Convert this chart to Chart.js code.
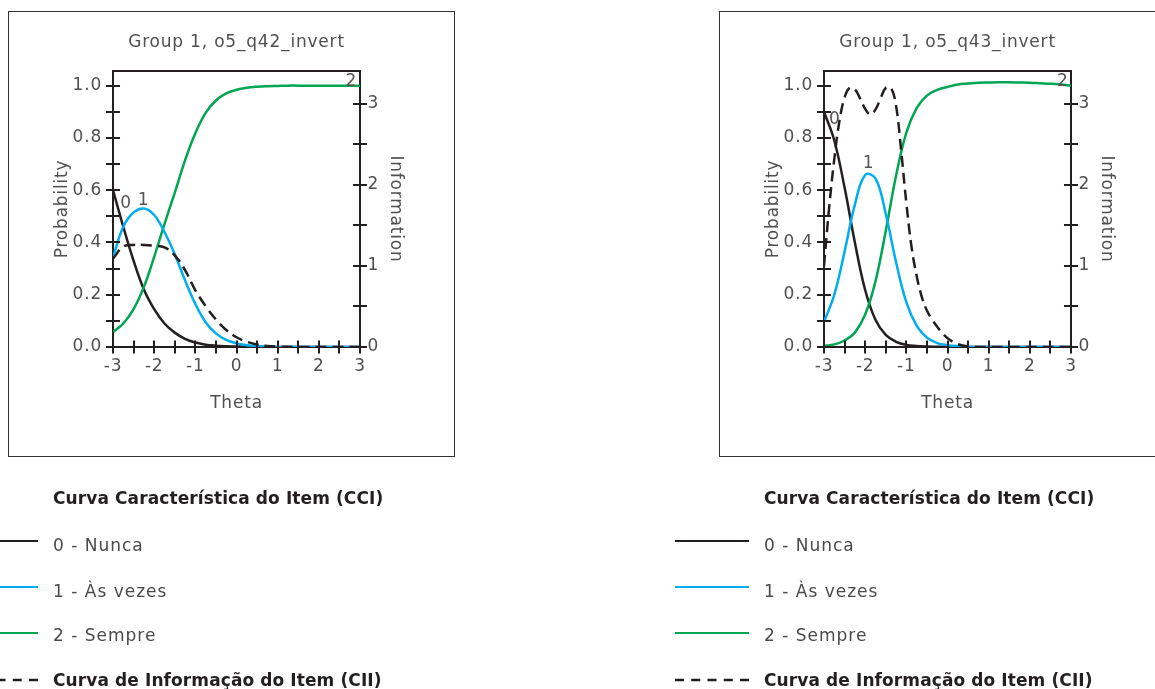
<!DOCTYPE html>
<html>
<head>
<meta charset="utf-8">
<script src="https://cdn.jsdelivr.net/npm/chart.js@4.4.1/dist/chart.umd.min.js"></script>
<style>
  body { margin: 0; width: 1155px; height: 689px; overflow: hidden; background: #fff;
         position: relative; font-family: "DejaVu Sans", sans-serif; }
  .panel { position: absolute; top: 11px; width: 447px; height: 446px; }
  .frame { position: absolute; left: 0; top: 0; width: 447px; height: 446px;
           border: 1.5px solid #333; box-sizing: border-box; }
  .panel canvas { position: absolute; left: 0; top: 0; }
  .legend { position: absolute; top: 0; width: 447px; height: 689px; }
  .lg-text { position: absolute; left: 45px; height: 20px; line-height: 20px; white-space: nowrap;
             font-size: 17px; color: #4a4a4a; letter-spacing: 1px; }
  .lg-head { font-weight: bold; color: #231f20; letter-spacing: 0.1px; }
  .lg-line { position: absolute; left: -44px; width: 74px; height: 0; border-top: 2.5px solid; }
  .lg-dash { position: absolute; left: -44px; }
</style>
</head>
<body>

<div class="panel" style="left:8px">
  <div class="frame"></div>
  <canvas id="chartQ42" width="447" height="446"></canvas>
</div>
<div class="panel" style="left:719px">
  <div class="frame"></div>
  <canvas id="chartQ43" width="447" height="446"></canvas>
</div>

<div class="legend" style="left:8px" id="legendQ42"></div>
<div class="legend" style="left:719px" id="legendQ43"></div>

<script>
// theta grid for the category curves (step 0.25)
const theta = [-3, -2.75, -2.5, -2.25, -2, -1.75, -1.5, -1.25, -1, -0.75, -0.5, -0.25,
               0, 0.25, 0.5, 0.75, 1, 1.25, 1.5, 1.75, 2, 2.25, 2.5, 2.75, 3];
// finer grid for the q43 information curve (step 0.125)
const thetaFine = [-3, -2.875, -2.75, -2.625, -2.5, -2.375, -2.25, -2.125, -2, -1.875, -1.75,
                   -1.625, -1.5, -1.375, -1.25, -1.125, -1, -0.875, -0.75, -0.625, -0.5, -0.375,
                   -0.25, -0.125, 0, 0.125, 0.25, 0.375, 0.5, 0.625, 0.75, 0.875, 1, 1.125, 1.25,
                   1.375, 1.5, 1.625, 1.75, 1.875, 2, 2.125, 2.25, 2.375, 2.5, 2.625, 2.75, 2.875, 3];

// o5_q42_invert
const q42Nunca   = [0.60, 0.46, 0.33, 0.22, 0.145, 0.09, 0.055, 0.031, 0.017, 0.009, 0.005, 0.003,
                    0.002, 0.001, 0.001, 0, 0, 0, 0, 0, 0, 0, 0, 0, 0];
const q42AsVezes = [0.343, 0.46, 0.515, 0.53, 0.505, 0.44, 0.355, 0.255, 0.165, 0.095, 0.052, 0.027,
                    0.014, 0.007, 0.003, 0.001, 0, 0, 0, 0, 0, 0, 0, 0, 0];
const q42Sempre  = [0.057, 0.09, 0.145, 0.23, 0.345, 0.47, 0.59, 0.714, 0.818, 0.896, 0.943, 0.97,
                    0.984, 0.992, 0.996, 0.998, 0.999, 1, 1, 1, 1, 1, 1, 1, 1];
const q42Info    = [1.09, 1.24, 1.26, 1.26, 1.25, 1.23, 1.13, 0.95, 0.70, 0.505, 0.34, 0.21,
                    0.12, 0.065, 0.03, 0.012, 0.005, 0.002, 0, 0, 0, 0, 0, 0, 0];

// o5_q43_invert
const q43Nunca   = [0.90, 0.79, 0.61, 0.40, 0.218, 0.104, 0.046, 0.02, 0.008, 0.004, 0.002, 0.001,
                    0, 0, 0, 0, 0, 0, 0, 0, 0, 0, 0, 0, 0];
const q43AsVezes = [0.096, 0.20, 0.365, 0.545, 0.658, 0.645, 0.51, 0.325, 0.172, 0.082, 0.036, 0.015,
                    0.007, 0.003, 0.001, 0, 0, 0, 0, 0, 0, 0, 0, 0, 0];
const q43Sempre  = [0.004, 0.01, 0.025, 0.055, 0.124, 0.251, 0.444, 0.655, 0.82, 0.914, 0.962, 0.984,
                    0.995, 1.004, 1.008, 1.011, 1.012, 1.013, 1.013, 1.012, 1.011, 1.009, 1.007, 1.004, 1.0];
const q43Info    = [1.00, 1.72, 2.32, 2.79, 3.08, 3.20, 3.18, 3.07, 2.94, 2.87, 2.93, 3.07, 3.20,
                    3.20, 2.98, 2.42, 1.78, 1.24, 0.88, 0.62, 0.45, 0.34, 0.25, 0.17, 0.11, 0.065,
                    0.035, 0.018, 0.008, 0.003, 0, 0, 0, 0, 0, 0, 0, 0, 0, 0, 0, 0, 0, 0, 0, 0, 0, 0, 0];

// legend texts
const categoryNames = ['0 - Nunca', '1 - Às vezes', '2 - Sempre'];
const cciTitle = 'Curva Característica do Item (CCI)';
const ciiTitle = 'Curva de Informação do Item (CII)';

const INK = '#231f20';
const BLUE = '#00aeef';
const GREEN = '#00a651';
const TEXT = '#505050';
const FONT = '"DejaVu Sans", sans-serif';

Chart.defaults.font.family = FONT;
Chart.defaults.font.size = 17;
Chart.defaults.font.weight = 'normal';
Chart.defaults.color = TEXT;

// pair x and y arrays into points
function pts(xs, ys) {
  return xs.map((x, i) => ({ x: x, y: ys[i] }));
}

// wider letter spacing so the text gets the width of the original face
const spacing = {
  id: 'spacing',
  beforeDraw(chart) { chart.ctx.letterSpacing = '0.8px'; }
};

// draws the box round the plot (under the curves)
const plotBox = {
  id: 'plotBox',
  beforeDatasetsDraw(chart) {
    const { ctx, chartArea: a } = chart;
    ctx.save();
    ctx.strokeStyle = INK;
    ctx.lineWidth = 2;
    ctx.strokeRect(a.left, a.top, a.right - a.left, a.bottom - a.top);
    ctx.restore();
  }
};

// tick marks crossing the axes + the 0/1/2 curve labels (over the curves)
const crossTicks = {
  id: 'crossTicks',
  afterDatasetsDraw(chart, args, opts) {
    const { ctx, chartArea: a, scales: { x, y, y1 } } = chart;
    ctx.save();
    ctx.strokeStyle = INK;
    ctx.lineWidth = 2;
    ctx.beginPath();
    for (let v = 0; v <= 10; v++) {
      const py = Math.round(y.getPixelForValue(v / 10));
      ctx.moveTo(a.left - 7, py); ctx.lineTo(a.left + 7, py);
    }
    for (let v = 0; v <= 6; v++) {
      const py = Math.round(y1.getPixelForValue(v / 2));
      ctx.moveTo(a.right - 7, py); ctx.lineTo(a.right + 7, py);
    }
    for (let v = -6; v <= 6; v++) {
      const px = Math.round(x.getPixelForValue(v / 2));
      ctx.moveTo(px, a.bottom - 6.5); ctx.lineTo(px, a.bottom + 6.5);
    }
    ctx.stroke();

    ctx.fillStyle = '#555';
    ctx.font = '17px ' + FONT;
    ctx.textAlign = 'center';
    ctx.textBaseline = 'middle';
    (opts.labels || []).forEach(l => {
      ctx.fillText(l.text, x.getPixelForValue(l.x), y.getPixelForValue(l.y));
    });
    ctx.restore();
  }
};

function makeChart(id, title, xs, nunca, asVezes, sempre, infoX, info, labels) {
  const ctx = document.getElementById(id).getContext('2d');
  const titleFont = { size: 17, weight: 'normal', lineHeight: 1.2 };
  return new Chart(ctx, {
    type: 'line',
    data: {
      datasets: [
        { data: pts(infoX, info), yAxisID: 'y1', borderColor: INK, borderWidth: 2.5, borderDash: [11, 6] },
        { data: pts(xs, asVezes), yAxisID: 'y', borderColor: BLUE, borderWidth: 2.5 },
        { data: pts(xs, sempre), yAxisID: 'y', borderColor: GREEN, borderWidth: 2.5 },
        { data: pts(xs, nunca), yAxisID: 'y', borderColor: INK, borderWidth: 2.5 }
      ]
    },
    options: {
      responsive: false,
      animation: false,
      devicePixelRatio: 1,
      layout: { padding: 0 },
      elements: { point: { radius: 0 }, line: { tension: 0.4, fill: false } },
      plugins: {
        legend: { display: false },
        tooltip: { enabled: false },
        title: {
          display: true, text: title, color: TEXT, font: titleFont, fullSize: false,
          padding: { top: 21.8, bottom: 17.8 }
        },
        crossTicks: { labels: labels }
      },
      scales: {
        x: {
          type: 'linear', min: -3, max: 3,
          grid: { display: false, drawTicks: false }, border: { display: false },
          ticks: { stepSize: 1, padding: 9.5 },
          title: { display: true, text: 'Theta', color: TEXT, font: titleFont,
                   padding: { top: 0, bottom: 42.8 } },
          afterFit(s) { s.height = 110; }
        },
        y: {
          position: 'left', min: 0, max: 1.056,
          grid: { display: false, drawTicks: false }, border: { display: false },
          ticks: { stepSize: 0.2, includeBounds: false, padding: 11, callback: v => v.toFixed(1) },
          title: { display: true, text: 'Probability', color: TEXT, font: titleFont,
                   padding: { top: 44.8, bottom: 0 } },
          afterFit(s) { s.width = 105; }
        },
        y1: {
          position: 'right', min: 0, max: 3.407,
          grid: { display: false, drawTicks: false }, border: { display: false },
          ticks: { stepSize: 1, includeBounds: false, padding: 7.5 },
          title: { display: true, text: 'Information', color: TEXT, font: titleFont,
                   padding: { top: 49.8, bottom: 0 } },
          afterFit(s) { s.width = 95; }
        }
      }
    },
    plugins: [spacing, plotBox, crossTicks]
  });
}

// legend below each panel
function buildLegend(id) {
  const box = document.getElementById(id);
  const colors = [INK, BLUE, GREEN];
  const lineY = [541.5, 587, 633];
  const textY = [535, 581, 625];
  let html = `<div class="lg-text lg-head" style="top:488px">${cciTitle}</div>`;
  categoryNames.forEach((name, i) => {
    html += `<div class="lg-line" style="top:${lineY[i] - 1.25}px;border-color:${colors[i]}"></div>`;
    html += `<div class="lg-text" style="top:${textY[i]}px">${name}</div>`;
  });
  html += `<svg class="lg-dash" style="top:676px" width="74" height="8">
             <line x1="0" y1="4" x2="74" y2="4" stroke="${INK}" stroke-width="2.5" stroke-dasharray="9 7.25"/></svg>`;
  html += `<div class="lg-text lg-head" style="top:670px">${ciiTitle}</div>`;
  box.innerHTML = html;
}

makeChart('chartQ42', 'Group 1, o5_q42_invert', theta, q42Nunca, q42AsVezes, q42Sempre, theta, q42Info,
  [{ text: '0', x: -2.68, y: 0.549 }, { text: '1', x: -2.26, y: 0.562 }, { text: '2', x: 2.79, y: 1.015 }]);
makeChart('chartQ43', 'Group 1, o5_q43_invert', theta, q43Nunca, q43AsVezes, q43Sempre, thetaFine, q43Info,
  [{ text: '0', x: -2.74, y: 0.869 }, { text: '1', x: -1.915, y: 0.703 }, { text: '2', x: 2.8, y: 1.015 }]);

buildLegend('legendQ42');
buildLegend('legendQ43');
</script>
</body>
</html>
